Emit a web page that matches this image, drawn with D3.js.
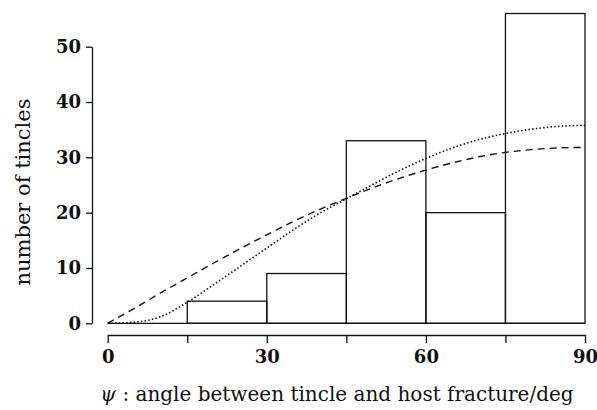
<!DOCTYPE html>
<html lang="en">
<head>
<meta charset="UTF-8">
<title>Tincle angles</title>
<script src="https://d3js.org/d3.v7.min.js"></script>
<style>
  body { margin: 0; background: #fff; }
  svg { display: block; }
</style>
</head>
<body>
<svg id="chart" width="597" height="410"></svg>
<script>
// histogram bins (degrees) and counts
const binEdges = [0, 15, 30, 45, 60, 75, 90];
const counts = [0, 4, 9, 33, 20, 56];

// curves
const curveAngles = [0, 5, 10, 15, 20, 25, 30, 35, 40, 45, 50, 55, 60, 65, 70, 75, 80, 85, 90];
const dashedValues = [0, 2.7, 5.5, 8.2, 10.9, 13.5, 16.0, 18.4, 20.6, 22.6, 24.5, 26.2, 27.7, 29.0, 30.1, 30.9, 31.4, 31.7, 31.8];
const dottedValues = [0, 0.2, 1.2, 3.8, 7.0, 10.3, 13.6, 16.9, 19.9, 22.5, 25.1, 27.6, 29.8, 31.7, 33.2, 34.3, 35.1, 35.6, 35.8];

const xTicks = [0, 15, 30, 45, 60, 75, 90];
const xTickLabels = [0, 30, 60, 90];
const yTicks = [0, 10, 20, 30, 40, 50];

const svg = d3.select("#chart");
const ink = "#111";

const x = d3.scaleLinear().domain([0, 90]).range([107.7, 585]);
const y = d3.scaleLinear().domain([0, 50]).range([323.3, 46.7]);

// y axis, set off to the left of the plot
const yAxis = d3.axisLeft(y)
    .tickValues(yTicks)
    .tickSize(6)
    .tickPadding(5)
    .tickSizeOuter(0);
const gy = svg.append("g")
    .attr("transform", "translate(92,0)")
    .call(yAxis);

// x axis, set below the plot
const xAxis = d3.axisBottom(x)
    .tickValues(xTicks)
    .tickSize(8)
    .tickPadding(7)
    .tickSizeOuter(0)
    .tickFormat(d => xTickLabels.includes(d) ? d : "");
const gx = svg.append("g")
    .attr("transform", "translate(0,335)")
    .call(xAxis);

[gx, gy].forEach(g => {
    g.select(".domain").attr("stroke", ink).attr("stroke-width", 1.3);
    g.selectAll(".tick line").attr("stroke", ink).attr("stroke-width", 1.3);
    g.selectAll(".tick text")
        .attr("fill", ink)
        .style("font-family", "'DejaVu Serif', serif")
        .style("font-weight", "bold")
        .style("font-size", "18px");
});

// histogram
const bars = counts.map((c, i) => ({ x0: binEdges[i], x1: binEdges[i + 1], count: c }));

svg.append("line")
    .attr("x1", x(0)).attr("x2", x(90))
    .attr("y1", y(0)).attr("y2", y(0))
    .attr("stroke", ink).attr("stroke-width", 1.3);

svg.selectAll(".bar")
    .data(bars.filter(d => d.count > 0))
    .enter().append("rect")
    .attr("class", "bar")
    .attr("x", d => x(d.x0))
    .attr("y", d => y(d.count))
    .attr("width", d => x(d.x1) - x(d.x0))
    .attr("height", d => y(0) - y(d.count))
    .attr("fill", "none")
    .attr("stroke", ink)
    .attr("stroke-width", 1.3);

// fitted curves
const line = d3.line()
    .x(d => x(d[0]))
    .y(d => y(d[1]))
    .curve(d3.curveMonotoneX);

svg.append("path")
    .datum(curveAngles.map((a, i) => [a, dashedValues[i]]))
    .attr("d", line)
    .attr("fill", "none")
    .attr("stroke", ink)
    .attr("stroke-width", 1.4)
    .attr("stroke-dasharray", "7,5");

svg.append("path")
    .datum(curveAngles.map((a, i) => [a, dottedValues[i]]))
    .attr("d", line)
    .attr("fill", "none")
    .attr("stroke", ink)
    .attr("stroke-width", 1.6)
    .attr("stroke-dasharray", "1.5,2.2");

// axis titles
svg.append("text")
    .attr("transform", "translate(30,192) rotate(-90)")
    .attr("text-anchor", "middle")
    .style("font-family", "'DejaVu Serif', serif")
    .style("font-size", "21px")
    .attr("fill", ink)
    .text("number of tincles");

const xt = svg.append("text")
    .attr("x", 337)
    .attr("y", 401)
    .attr("text-anchor", "middle")
    .style("font-family", "'DejaVu Serif', serif")
    .style("font-size", "20px")
    .attr("fill", ink);
xt.append("tspan").style("font-style", "italic").text("ψ");
xt.append("tspan").text(" : angle between tincle and host fracture/deg");
</script>
</body>
</html>
